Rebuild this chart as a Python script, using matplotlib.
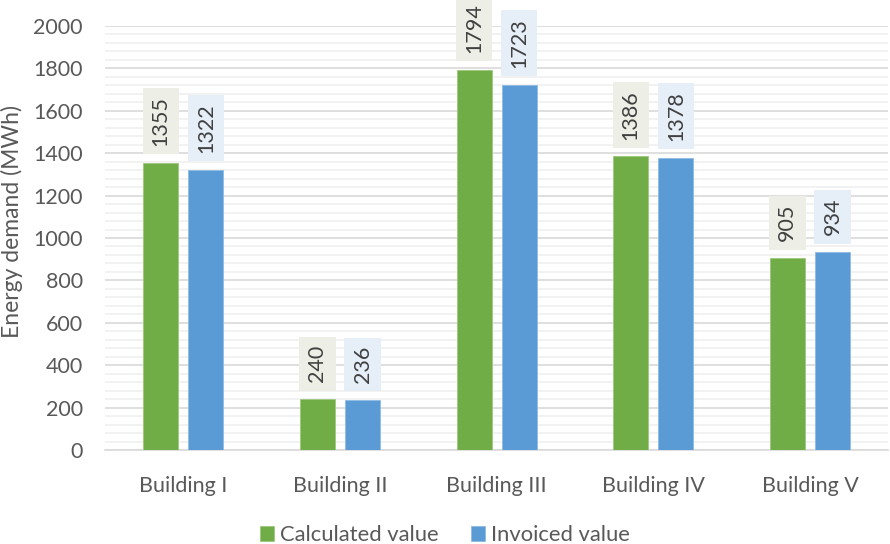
import matplotlib.pyplot as plt
from matplotlib.ticker import MultipleLocator
import numpy as np

# energy demand per building, MWh
buildings = ['Building I', 'Building II', 'Building III', 'Building IV', 'Building V']
calculated = [1355, 240, 1794, 1386, 905]
invoiced = [1322, 236, 1723, 1378, 934]

green = '#70AD47'
blue = '#5B9BD5'
text_col = '#595959'

plt.rcParams['font.family'] = ['Lato', 'DejaVu Sans']

fig = plt.figure(figsize=(8.9, 5.44), dpi=100)
ax = fig.add_axes([0.118, 0.1728, 0.88, 0.7794])

x = np.arange(len(buildings))
w = 0.224
off = 0.144
b1 = ax.bar(x - off, calculated, w, color=green, edgecolor='#9CC97F', linewidth=0.6,
            label='Calculated value', zorder=3)
b2 = ax.bar(x + off, invoiced, w, color=blue, edgecolor='#8DBBE5', linewidth=0.6,
            label='Invoiced value', zorder=3)

# value labels, rotated, sitting in a pale box above each bar
for bars, vals, box in [(b1, calculated, '#EDEFE7'), (b2, invoiced, '#E6EEF8')]:
    for rect, v in zip(bars, vals):
        ax.annotate(str(v), (rect.get_x() + rect.get_width() / 2, v),
                    xytext=(0, 12), textcoords='offset points',
                    rotation=90, ha='center', va='bottom', fontsize=15.5,
                    color='#404040', annotation_clip=False, zorder=4,
                    bbox=dict(boxstyle='square,pad=0.38', fc=box, ec='none'))

ax.set_xlim(-0.5, 4.5)
ax.set_ylim(0, 2000)
ax.yaxis.set_major_locator(MultipleLocator(200))
ax.yaxis.set_minor_locator(MultipleLocator(40))
ax.grid(axis='y', which='major', color='#D9D9D9', linewidth=1.2, zorder=0)
ax.grid(axis='y', which='minor', color='#F0F0F0', linewidth=1.2, zorder=0)
ax.set_axisbelow(True)

for s in ['top', 'right', 'left']:
    ax.spines[s].set_visible(False)
ax.spines['bottom'].set_color('#D9D9D9')
ax.spines['bottom'].set_linewidth(1.2)

ax.set_xticks(x)
ax.set_xticklabels(buildings)
ax.tick_params(axis='both', which='both', length=0, labelsize=15.5, colors=text_col)
ax.tick_params(axis='x', pad=19)
ax.tick_params(axis='y', pad=16)

fig.text(12 / 890, 1 - 222 / 544, 'Energy demand (MWh)', rotation=90, ha='center',
         va='center', fontsize=16.5, color=text_col)

fig.legend(loc='center', bbox_to_anchor=(0.5, 1 - 535 / 544), ncol=2, frameon=False,
           fontsize=15.8, handlelength=0.64, handleheight=0.64, handletextpad=0.3,
           columnspacing=1.45, labelcolor=text_col)

fig.savefig('out.png', dpi=100)
